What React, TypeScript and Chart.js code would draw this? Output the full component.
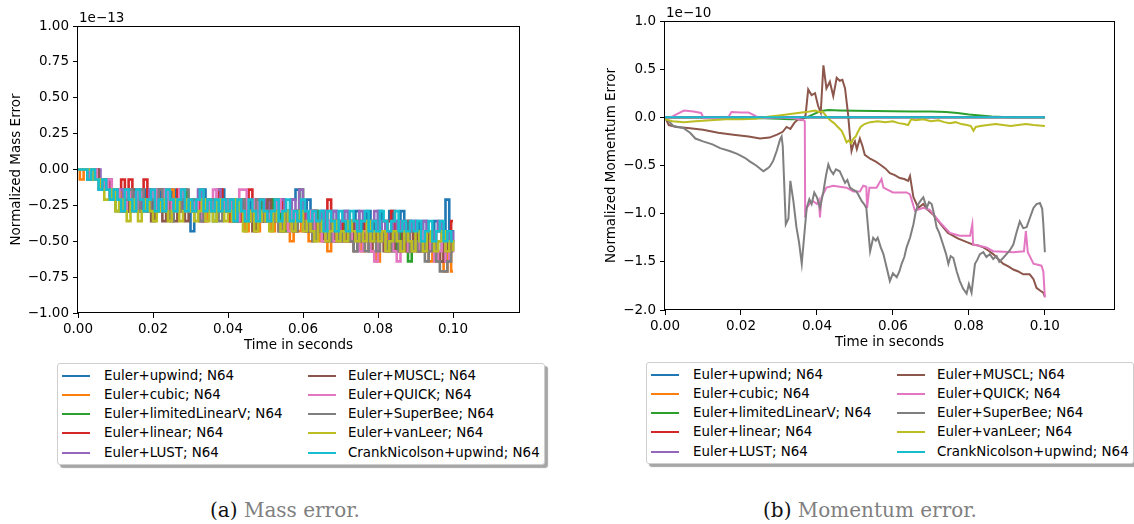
import React, { useEffect, useRef } from "react";
import { Chart, registerables } from "chart.js";

Chart.register(...registerables);

// ---------- labels, colours, ticks ----------
const SERIES_LABELS = [
  "Euler+upwind; N64",
  "Euler+cubic; N64",
  "Euler+limitedLinearV; N64",
  "Euler+linear; N64",
  "Euler+LUST; N64",
  "Euler+MUSCL; N64",
  "Euler+QUICK; N64",
  "Euler+SuperBee; N64",
  "Euler+vanLeer; N64",
  "CrankNicolson+upwind; N64",
];
const SERIES_COLORS = [
  "#1f77b4", "#ff7f0e", "#2ca02c", "#d62728", "#9467bd",
  "#8c564b", "#e377c2", "#7f7f7f", "#bcbd22", "#17becf",
];
const X_TICKS = [0, 0.02, 0.04, 0.06, 0.08, 0.1];
const MASS_Y_TICKS = [-1, -0.75, -0.5, -0.25, 0, 0.25, 0.5, 0.75, 1];
const MOM_Y_TICKS = [-2, -1.5, -1, -0.5, 0, 0.5, 1];

// ---------- (a) mass error, units of 1e-13 ----------
const MASS_T = [
  0, 0.001, 0.002, 0.003, 0.004, 0.005, 0.006, 0.007, 0.008, 0.009,
  0.01, 0.011, 0.012, 0.013, 0.014, 0.015, 0.016, 0.017, 0.018, 0.019,
  0.02, 0.021, 0.022, 0.023, 0.024, 0.025, 0.026, 0.027, 0.028, 0.029,
  0.03, 0.031, 0.032, 0.033, 0.034, 0.035, 0.036, 0.037, 0.038, 0.039,
  0.04, 0.041, 0.042, 0.043, 0.044, 0.045, 0.046, 0.047, 0.048, 0.049,
  0.05, 0.051, 0.052, 0.053, 0.054, 0.055, 0.056, 0.057, 0.058, 0.059,
  0.06, 0.061, 0.062, 0.063, 0.064, 0.065, 0.066, 0.067, 0.068, 0.069,
  0.07, 0.071, 0.072, 0.073, 0.074, 0.075, 0.076, 0.077, 0.078, 0.079,
  0.08, 0.081, 0.082, 0.083, 0.084, 0.085, 0.086, 0.087, 0.088, 0.089,
  0.09, 0.091, 0.092, 0.093, 0.094, 0.095, 0.096, 0.097, 0.098, 0.099, 0.1,
];
const MASS_UPWIND = [
  0, 0, 0, 0, -0.07, -0.07, -0.14, -0.07, -0.14, -0.21,
  -0.14, -0.21, -0.29, -0.21, -0.14, -0.29, -0.21, -0.14, -0.29, -0.21,
  -0.29, -0.14, -0.21, -0.29, -0.21, -0.14, -0.29, -0.21, -0.29, -0.21,
  -0.43, -0.21, -0.29, -0.14, -0.21, -0.29, -0.21, -0.29, -0.14, -0.29,
  -0.21, -0.29, -0.36, -0.21, -0.29, -0.21, -0.36, -0.29, -0.21, -0.36,
  -0.29, -0.21, -0.36, -0.29, -0.21, -0.36, -0.29, -0.21, -0.14, -0.36,
  -0.29, -0.21, -0.36, -0.29, -0.36, -0.29, -0.43, -0.36, -0.29, -0.43,
  -0.36, -0.29, -0.43, -0.36, -0.29, -0.43, -0.36, -0.29, -0.43, -0.36,
  -0.29, -0.43, -0.36, -0.29, -0.43, -0.36, -0.29, -0.43, -0.36, -0.43,
  -0.36, -0.43, -0.36, -0.5, -0.43, -0.36, -0.43, -0.5, -0.21, -0.43, -0.5,
];
const MASS_CUBIC = [
  0, -0.07, 0, -0.07, 0, -0.07, -0.07, -0.14, -0.07, -0.14,
  -0.21, -0.14, -0.21, -0.29, -0.21, -0.14, -0.21, -0.29, -0.21, -0.14,
  -0.21, -0.29, -0.21, -0.29, -0.21, -0.14, -0.29, -0.21, -0.29, -0.21,
  -0.29, -0.21, -0.29, -0.21, -0.36, -0.21, -0.29, -0.21, -0.29, -0.21,
  -0.29, -0.36, -0.21, -0.29, -0.36, -0.43, -0.29, -0.36, -0.43, -0.29,
  -0.36, -0.29, -0.43, -0.36, -0.29, -0.43, -0.36, -0.5, -0.36, -0.43,
  -0.36, -0.43, -0.5, -0.36, -0.43, -0.5, -0.43, -0.57, -0.43, -0.5,
  -0.43, -0.5, -0.43, -0.5, -0.43, -0.5, -0.57, -0.43, -0.5, -0.57,
  -0.64, -0.5, -0.43, -0.57, -0.5, -0.43, -0.57, -0.5, -0.57, -0.43,
  -0.5, -0.57, -0.5, -0.57, -0.64, -0.5, -0.57, -0.64, -0.71, -0.57, -0.71,
];
const MASS_LIMITEDLINEARV = [
  0, 0, 0, -0.07, 0, -0.07, -0.14, -0.07, -0.14, -0.21,
  -0.29, -0.21, -0.14, -0.29, -0.21, -0.14, -0.21, -0.29, -0.21, -0.14,
  -0.21, -0.29, -0.21, -0.14, -0.29, -0.21, -0.29, -0.21, -0.14, -0.29,
  -0.21, -0.29, -0.21, -0.29, -0.21, -0.29, -0.36, -0.21, -0.29, -0.21,
  -0.29, -0.21, -0.36, -0.29, -0.21, -0.36, -0.29, -0.36, -0.21, -0.29,
  -0.36, -0.29, -0.21, -0.36, -0.29, -0.43, -0.29, -0.36, -0.29, -0.14,
  -0.36, -0.43, -0.36, -0.29, -0.43, -0.36, -0.5, -0.43, -0.5, -0.43,
  -0.36, -0.43, -0.5, -0.43, -0.36, -0.5, -0.43, -0.36, -0.43, -0.5,
  -0.43, -0.5, -0.43, -0.5, -0.57, -0.43, -0.5, -0.43, -0.64, -0.5,
  -0.43, -0.5, -0.57, -0.5, -0.43, -0.57, -0.5, -0.57, -0.64, -0.5, -0.57,
];
const MASS_LINEAR = [
  0, 0, 0, 0, -0.07, 0, -0.07, -0.14, -0.07, -0.14,
  -0.21, -0.14, -0.07, -0.21, -0.07, -0.14, -0.21, -0.29, -0.07, -0.21,
  -0.29, -0.21, -0.14, -0.29, -0.21, -0.29, -0.21, -0.14, -0.29, -0.21,
  -0.29, -0.21, -0.29, -0.14, -0.29, -0.21, -0.29, -0.21, -0.14, -0.29,
  -0.21, -0.36, -0.29, -0.21, -0.36, -0.29, -0.14, -0.29, -0.36, -0.21,
  -0.36, -0.29, -0.36, -0.29, -0.21, -0.36, -0.29, -0.36, -0.29, -0.36,
  -0.29, -0.36, -0.43, -0.29, -0.36, -0.43, -0.36, -0.21, -0.43, -0.36,
  -0.43, -0.36, -0.43, -0.5, -0.36, -0.43, -0.36, -0.43, -0.5, -0.36,
  -0.43, -0.5, -0.43, -0.36, -0.29, -0.43, -0.5, -0.43, -0.36, -0.5,
  -0.43, -0.5, -0.43, -0.57, -0.5, -0.43, -0.57, -0.64, -0.5, -0.43, -0.36,
];
const MASS_LUST = [
  0, 0, 0, 0, 0, 0, -0.07, -0.14, -0.07, -0.14,
  -0.21, -0.14, -0.21, -0.29, -0.14, -0.21, -0.14, -0.29, -0.21, -0.14,
  -0.21, -0.29, -0.21, -0.14, -0.21, -0.29, -0.21, -0.14, -0.29, -0.21,
  -0.29, -0.21, -0.14, -0.29, -0.21, -0.29, -0.21, -0.14, -0.29, -0.21,
  -0.29, -0.21, -0.36, -0.29, -0.21, -0.29, -0.36, -0.21, -0.29, -0.36,
  -0.21, -0.29, -0.36, -0.29, -0.21, -0.36, -0.29, -0.21, -0.36, -0.14,
  -0.29, -0.36, -0.29, -0.43, -0.36, -0.29, -0.43, -0.36, -0.29, -0.43,
  -0.36, -0.29, -0.43, -0.36, -0.43, -0.29, -0.36, -0.43, -0.36, -0.29,
  -0.43, -0.36, -0.43, -0.5, -0.36, -0.43, -0.36, -0.5, -0.43, -0.36,
  -0.43, -0.5, -0.36, -0.43, -0.5, -0.43, -0.36, -0.5, -0.43, -0.5, -0.43,
];
const MASS_MUSCL = [
  0, 0, 0, -0.07, -0.07, 0, -0.07, -0.14, -0.14, -0.21,
  -0.14, -0.21, -0.29, -0.21, -0.29, -0.14, -0.21, -0.29, -0.21, -0.29,
  -0.36, -0.21, -0.29, -0.36, -0.21, -0.29, -0.36, -0.29, -0.21, -0.36,
  -0.29, -0.21, -0.29, -0.36, -0.21, -0.29, -0.21, -0.29, -0.21, -0.29,
  -0.21, -0.29, -0.36, -0.29, -0.21, -0.36, -0.29, -0.43, -0.29, -0.36,
  -0.29, -0.21, -0.36, -0.29, -0.43, -0.36, -0.29, -0.36, -0.43, -0.29,
  -0.36, -0.43, -0.36, -0.29, -0.43, -0.36, -0.5, -0.43, -0.36, -0.5,
  -0.43, -0.5, -0.43, -0.36, -0.57, -0.5, -0.43, -0.5, -0.57, -0.43,
  -0.5, -0.43, -0.57, -0.5, -0.43, -0.57, -0.5, -0.43, -0.57, -0.5,
  -0.43, -0.57, -0.5, -0.57, -0.43, -0.5, -0.57, -0.64, -0.5, -0.57, -0.5,
];
const MASS_QUICK = [
  0, 0, 0, -0.07, 0, -0.07, -0.07, -0.14, -0.07, -0.21,
  -0.14, -0.21, -0.29, -0.14, -0.21, -0.29, -0.14, -0.21, -0.29, -0.21,
  -0.14, -0.29, -0.21, -0.14, -0.29, -0.21, -0.29, -0.14, -0.21, -0.29,
  -0.21, -0.29, -0.21, -0.36, -0.21, -0.29, -0.14, -0.29, -0.21, -0.29,
  -0.21, -0.29, -0.36, -0.14, -0.14, -0.36, -0.29, -0.21, -0.36, -0.29,
  -0.36, -0.29, -0.36, -0.21, -0.29, -0.36, -0.43, -0.29, -0.36, -0.29,
  -0.43, -0.36, -0.29, -0.43, -0.36, -0.5, -0.43, -0.36, -0.5, -0.43,
  -0.5, -0.43, -0.36, -0.5, -0.43, -0.57, -0.43, -0.5, -0.57, -0.64,
  -0.5, -0.43, -0.57, -0.5, -0.57, -0.64, -0.5, -0.43, -0.57, -0.5,
  -0.57, -0.5, -0.43, -0.57, -0.5, -0.64, -0.57, -0.5, -0.64, -0.57, -0.5,
];
const MASS_SUPERBEE = [
  0, 0, 0, -0.07, 0, -0.07, -0.14, -0.07, -0.14, -0.21,
  -0.14, -0.21, -0.29, -0.21, -0.14, -0.21, -0.29, -0.14, -0.21, -0.29,
  -0.21, -0.29, -0.14, -0.21, -0.29, -0.36, -0.21, -0.29, -0.21, -0.14,
  -0.29, -0.21, -0.29, -0.36, -0.21, -0.29, -0.21, -0.29, -0.36, -0.21,
  -0.29, -0.21, -0.36, -0.29, -0.21, -0.36, -0.29, -0.36, -0.21, -0.29,
  -0.36, -0.29, -0.36, -0.29, -0.43, -0.36, -0.29, -0.36, -0.43, -0.29,
  -0.36, -0.43, -0.36, -0.5, -0.43, -0.36, -0.43, -0.5, -0.36, -0.43,
  -0.5, -0.43, -0.36, -0.5, -0.57, -0.43, -0.5, -0.57, -0.43, -0.5,
  -0.57, -0.43, -0.5, -0.57, -0.5, -0.43, -0.57, -0.5, -0.43, -0.57,
  -0.5, -0.57, -0.5, -0.64, -0.57, -0.5, -0.64, -0.71, -0.71, -0.64, -0.57,
];
const MASS_VANLEER = [
  0, 0, 0, 0, -0.07, -0.07, -0.14, -0.21, -0.21, -0.14,
  -0.29, -0.21, -0.29, -0.36, -0.21, -0.29, -0.36, -0.29, -0.21, -0.29,
  -0.36, -0.29, -0.21, -0.29, -0.36, -0.29, -0.21, -0.36, -0.29, -0.21,
  -0.29, -0.36, -0.29, -0.21, -0.36, -0.29, -0.36, -0.21, -0.29, -0.36,
  -0.29, -0.36, -0.21, -0.29, -0.43, -0.36, -0.29, -0.43, -0.36, -0.29,
  -0.36, -0.43, -0.29, -0.36, -0.43, -0.29, -0.36, -0.43, -0.36, -0.29,
  -0.43, -0.36, -0.43, -0.5, -0.36, -0.43, -0.5, -0.43, -0.36, -0.5,
  -0.43, -0.5, -0.36, -0.43, -0.5, -0.43, -0.5, -0.36, -0.5, -0.43,
  -0.5, -0.43, -0.57, -0.5, -0.43, -0.5, -0.57, -0.43, -0.5, -0.57,
  -0.43, -0.5, -0.57, -0.43, -0.5, -0.57, -0.5, -0.43, -0.57, -0.5, -0.57,
];
const MASS_CRANKNICOLSON = [
  0, 0, 0, -0.07, 0, -0.07, -0.14, -0.07, -0.14, -0.21,
  -0.14, -0.21, -0.29, -0.14, -0.21, -0.29, -0.14, -0.21, -0.29, -0.21,
  -0.14, -0.29, -0.21, -0.29, -0.14, -0.21, -0.29, -0.21, -0.14, -0.29,
  -0.21, -0.29, -0.21, -0.14, -0.29, -0.21, -0.29, -0.21, -0.29, -0.21,
  -0.29, -0.21, -0.36, -0.21, -0.29, -0.36, -0.21, -0.29, -0.36, -0.21,
  -0.29, -0.36, -0.29, -0.21, -0.36, -0.29, -0.21, -0.36, -0.29, -0.36,
  -0.21, -0.29, -0.36, -0.29, -0.36, -0.29, -0.43, -0.29, -0.36, -0.43,
  -0.29, -0.36, -0.43, -0.29, -0.36, -0.43, -0.36, -0.29, -0.43, -0.36,
  -0.43, -0.29, -0.36, -0.43, -0.36, -0.29, -0.43, -0.36, -0.43, -0.36,
  -0.43, -0.36, -0.5, -0.43, -0.36, -0.5, -0.43, -0.36, -0.5, -0.43, -0.5,
];
const MASS_SERIES = [
  MASS_UPWIND, MASS_CUBIC, MASS_LIMITEDLINEARV, MASS_LINEAR, MASS_LUST,
  MASS_MUSCL, MASS_QUICK, MASS_SUPERBEE, MASS_VANLEER, MASS_CRANKNICOLSON,
];

// ---------- (b) momentum error, units of 1e-10 ----------
const MOM_UPWIND_T = [0, 0.025, 0.05, 0.075, 0.1];
const MOM_UPWIND_V = [0, 0, 0, 0, 0];
const MOM_CUBIC_T = [0, 0.025, 0.05, 0.075, 0.1];
const MOM_CUBIC_V = [0, 0, 0, 0, 0];
const MOM_LLV_T = [
  0, 0.01, 0.02, 0.026, 0.03, 0.033, 0.035, 0.037, 0.039, 0.041, 0.043, 0.046,
  0.05, 0.055, 0.06, 0.065, 0.07, 0.074, 0.077, 0.08, 0.083, 0.086, 0.089, 0.092, 0.1,
];
const MOM_LLV_V = [
  0, 0, -0.005, -0.01, -0.015, -0.02, -0.02, -0.005, 0.03, 0.065, 0.075, 0.072,
  0.068, 0.065, 0.062, 0.06, 0.06, 0.055, 0.045, 0.03, 0.018, 0.008, 0.003, 0, 0,
];
const MOM_LINEAR_T = [0, 0.025, 0.05, 0.075, 0.1];
const MOM_LINEAR_V = [0, 0, 0, 0, 0];
const MOM_LUST_T = [0, 0.025, 0.05, 0.075, 0.1];
const MOM_LUST_V = [0, 0, 0, 0, 0];
const MOM_MUSCL_T = [
  0, 0.001, 0.003, 0.006, 0.01, 0.014, 0.018, 0.022, 0.025, 0.0275,
  0.0295, 0.031, 0.032, 0.033, 0.034, 0.035, 0.036, 0.037, 0.0377, 0.0386,
  0.0395, 0.0403, 0.041, 0.0417, 0.0425, 0.0434, 0.0443, 0.0452, 0.046, 0.0467,
  0.0474, 0.0482, 0.0487, 0.0491, 0.0496, 0.05, 0.0505, 0.0513, 0.052, 0.0526,
  0.054, 0.0555, 0.0566, 0.058, 0.0592, 0.0605, 0.0618, 0.063, 0.064, 0.0645,
  0.0654, 0.0667, 0.068, 0.0689, 0.0706, 0.072, 0.0732, 0.0745, 0.0759, 0.0772,
  0.0785, 0.0798, 0.081, 0.0825, 0.0838, 0.085, 0.0864, 0.0877, 0.089, 0.0905,
  0.0917, 0.093, 0.0943, 0.096, 0.097, 0.0978, 0.0988, 0.0996, 0.1,
];
const MOM_MUSCL_V = [
  0, -0.08, -0.1, -0.11, -0.13, -0.16, -0.18, -0.2, -0.22, -0.21,
  -0.18, -0.15, -0.1, -0.12, -0.06, -0.02, -0.03, 0.02, 0.29, 0.23,
  0.25, 0.12, 0.05, 0.54, 0.3, 0.37, 0.22, 0.41, 0.38, 0.39,
  0.3, 0.03, -0.2, -0.35, -0.28, -0.25, -0.33, -0.22, -0.3, -0.39,
  -0.43, -0.46, -0.49, -0.53, -0.58, -0.6, -0.63, -0.64, -0.66, -0.61,
  -0.83, -0.94, -0.9, -0.95, -1.01, -1.08, -1.14, -1.2, -1.23, -1.26,
  -1.28, -1.3, -1.32, -1.33, -1.35, -1.38, -1.42, -1.47, -1.52, -1.55,
  -1.58, -1.6, -1.63, -1.63, -1.68, -1.77, -1.8, -1.82, -1.86,
];
const MOM_QUICK_T = [
  0, 0.002, 0.003, 0.005, 0.0075, 0.0095, 0.0102, 0.013, 0.0165, 0.0175,
  0.02, 0.022, 0.023, 0.025, 0.03, 0.034, 0.0365, 0.0368, 0.0369, 0.0373,
  0.0382, 0.039, 0.04, 0.0405, 0.0408, 0.0412, 0.0425, 0.0443, 0.046, 0.0478,
  0.0496, 0.0513, 0.0522, 0.053, 0.0532, 0.0538, 0.0557, 0.057, 0.0575, 0.06,
  0.0636, 0.0645, 0.0658, 0.068, 0.0697, 0.0724, 0.075, 0.0776, 0.0803, 0.0809,
  0.0811, 0.0846, 0.0864, 0.0917, 0.0945, 0.095, 0.0955, 0.097, 0.0991, 0.0996, 0.1,
];
const MOM_QUICK_V = [
  -0.02, 0.01, 0.03, 0.07, 0.06, 0.045, -0.01, -0.01, -0.01, 0.055,
  0.05, 0.05, 0.03, -0.01, 0, -0.01, -0.03, -0.04, -1.04, -0.94,
  -0.89, -0.87, -0.9, -0.86, -1.04, -0.83, -0.73, -0.71, -0.72, -0.73,
  -0.77, -0.77, -0.71, -0.72, -0.94, -0.73, -0.73, -0.64, -0.73, -0.78,
  -0.78, -0.8, -0.97, -0.94, -0.96, -1.09, -1.2, -1.23, -1.23, -1.11,
  -1.32, -1.35, -1.39, -1.4, -1.39, -1.18, -1.4, -1.52, -1.54, -1.6, -1.87,
];
const MOM_SUPERBEE_T = [
  0, 0.001, 0.0022, 0.0035, 0.0048, 0.0066, 0.008, 0.01, 0.0125, 0.0145,
  0.017, 0.019, 0.021, 0.0224, 0.024, 0.0259, 0.027, 0.0276, 0.0285, 0.0294,
  0.0303, 0.0307, 0.031, 0.0318, 0.0325, 0.033, 0.0338, 0.0346, 0.0353, 0.036,
  0.0366, 0.0373, 0.038, 0.0386, 0.0393, 0.04, 0.0408, 0.0417, 0.0424, 0.043,
  0.0436, 0.0443, 0.045, 0.046, 0.0467, 0.0474, 0.048, 0.0487, 0.0495, 0.0504,
  0.0511, 0.0518, 0.0524, 0.053, 0.054, 0.0548, 0.0555, 0.056, 0.0568, 0.0575,
  0.0583, 0.0592, 0.06, 0.061, 0.0617, 0.0623, 0.063, 0.0636, 0.0645, 0.0654,
  0.066, 0.0667, 0.0674, 0.068, 0.0689, 0.0695, 0.0702, 0.0708, 0.0715, 0.0722,
  0.0732, 0.074, 0.0746, 0.0752, 0.0759, 0.0768, 0.0776, 0.0785, 0.0794, 0.08,
  0.0807, 0.0816, 0.0822, 0.0829, 0.0838, 0.0846, 0.0855, 0.0864, 0.0873, 0.088,
  0.089, 0.0899, 0.0908, 0.0917, 0.0925, 0.0934, 0.0943, 0.0952, 0.096, 0.097,
  0.0978, 0.0987, 0.0993, 0.0996, 0.1,
];
const MOM_SUPERBEE_V = [
  0, -0.04, -0.09, -0.1, -0.11, -0.16, -0.22, -0.25, -0.28, -0.32,
  -0.35, -0.38, -0.42, -0.46, -0.5, -0.56, -0.53, -0.51, -0.45, -0.35,
  -0.23, -0.2, -0.3, -1.11, -1.05, -0.66, -0.87, -1.14, -1.3, -1.52,
  -1.25, -0.94, -0.85, -0.9, -0.78, -0.83, -0.94, -0.77, -0.6, -0.49,
  -0.55, -0.59, -0.54, -0.56, -0.62, -0.68, -0.65, -0.73, -0.75, -0.77,
  -0.82, -0.87, -0.9, -0.94, -1.39, -1.25, -1.28, -1.25, -1.35, -1.42,
  -1.55, -1.7, -1.62, -1.66, -1.6, -1.52, -1.45, -1.35, -1.25, -1.11,
  -0.98, -0.9, -0.86, -0.83, -0.94, -0.88, -0.9, -1.0, -1.14, -1.2,
  -1.32, -1.42, -1.52, -1.44, -1.46, -1.6, -1.7, -1.78, -1.83, -1.73,
  -1.82, -1.52, -1.48, -1.42, -1.4, -1.45, -1.42, -1.47, -1.44, -1.5,
  -1.46, -1.42, -1.38, -1.32, -1.2, -1.08, -1.15, -1.14, -1.05, -0.94,
  -0.9, -0.89, -0.95, -1.11, -1.4,
];
const MOM_VANLEER_T = [
  0, 0.002, 0.005, 0.008, 0.012, 0.016, 0.02, 0.024, 0.027, 0.03,
  0.033, 0.036, 0.038, 0.0395, 0.0405, 0.0415, 0.0425, 0.0435, 0.0445, 0.0455,
  0.0465, 0.0472, 0.0478, 0.0484, 0.049, 0.0496, 0.0502, 0.0508, 0.0515, 0.0525,
  0.054, 0.056, 0.058, 0.06, 0.0615, 0.063, 0.064, 0.0648, 0.066, 0.068,
  0.07, 0.072, 0.0735, 0.075, 0.0765, 0.078, 0.0795, 0.0805, 0.0812, 0.0818,
  0.083, 0.085, 0.087, 0.089, 0.091, 0.093, 0.095, 0.097, 0.1,
];
const MOM_VANLEER_V = [
  -0.02, -0.04, -0.05, -0.04, -0.03, -0.02, -0.02, -0.015, 0.005, 0.02,
  0.035, 0.05, 0.06, 0.07, 0.055, 0.06, 0.01, -0.03, -0.06, -0.1,
  -0.14, -0.2, -0.26, -0.24, -0.27, -0.22, -0.2, -0.15, -0.1, -0.07,
  -0.05, -0.04, -0.05, -0.04, -0.06, -0.07, -0.08, -0.02, -0.03, -0.02,
  -0.04, -0.03, -0.05, -0.06, -0.05, -0.07, -0.08, -0.09, -0.14, -0.1,
  -0.09, -0.08, -0.07, -0.08, -0.09, -0.08, -0.07, -0.08, -0.09,
];
const MOM_CRANKNICOLSON_T = [0, 0.025, 0.05, 0.075, 0.1];
const MOM_CRANKNICOLSON_V = [0, 0, 0, 0, 0];

const MOM_SERIES_T = [
  MOM_UPWIND_T, MOM_CUBIC_T, MOM_LLV_T, MOM_LINEAR_T, MOM_LUST_T,
  MOM_MUSCL_T, MOM_QUICK_T, MOM_SUPERBEE_T, MOM_VANLEER_T, MOM_CRANKNICOLSON_T,
];
const MOM_SERIES_V = [
  MOM_UPWIND_V, MOM_CUBIC_V, MOM_LLV_V, MOM_LINEAR_V, MOM_LUST_V,
  MOM_MUSCL_V, MOM_QUICK_V, MOM_SUPERBEE_V, MOM_VANLEER_V, MOM_CRANKNICOLSON_V,
];

// ---------- helpers ----------
const FONT_FAMILY = '"DejaVu Sans", sans-serif';
const FONT_SIZE = 13.5;
const fmt = (v: number, d: number) =>
  (v < -1e-9 ? "\u2212" : "") + Math.abs(v).toFixed(d);

function framePlugin(offsetText: string) {
  return {
    id: "frameAndOffset",
    afterDraw(chart: any) {
      const { ctx, chartArea: a } = chart;
      ctx.save();
      ctx.strokeStyle = "#000";
      ctx.lineWidth = 1;
      ctx.strokeRect(
        Math.round(a.left) - 0.5,
        Math.round(a.top) + 0.5,
        Math.round(a.right - a.left) + 1,
        Math.round(a.bottom - a.top) - 1
      );
      ctx.fillStyle = "#000";
      ctx.font = `${FONT_SIZE}px ${FONT_FAMILY}`;
      ctx.textAlign = "left";
      ctx.textBaseline = "alphabetic";
      ctx.fillText(offsetText, a.left + 1, a.top - 4);
      ctx.restore();
    },
  };
}

type Cfg = {
  datasets: any[];
  xMax: number;
  yMin: number;
  yMax: number;
  yTicks: number[];
  yDecimals: number;
  yTitle: string;
  yAxisWidth: number;
  yTitlePad: number;
  xAxisHeight: number;
  xTitlePad: number;
  padTop: number;
  padRight: number;
  offsetText: string;
};

function buildChart(canvas: HTMLCanvasElement, c: Cfg) {
  const font = { family: FONT_FAMILY, size: FONT_SIZE };
  const grid = {
    display: true,
    drawOnChartArea: false,
    drawTicks: true,
    tickLength: 5,
    tickColor: "#000",
    tickWidth: 1,
  };
  return new Chart(canvas, {
    type: "line",
    data: { datasets: c.datasets },
    options: {
      animation: false,
      responsive: false,
      devicePixelRatio: 1,
      layout: { padding: { top: c.padTop, right: c.padRight, left: 0, bottom: 0 } },
      plugins: { legend: { display: false }, tooltip: { enabled: false } },
      elements: { point: { radius: 0 }, line: { tension: 0, borderWidth: 2 } },
      scales: {
        x: {
          type: "linear",
          min: 0,
          max: c.xMax,
          afterBuildTicks: (ax: any) => {
            ax.ticks = X_TICKS.map((v) => ({ value: v }));
          },
          afterFit: (s: any) => {
            s.height = c.xAxisHeight;
          },
          ticks: {
            font,
            color: "#000",
            padding: 3,
            maxRotation: 0,
            autoSkip: false,
            callback: (v: any) => fmt(Number(v), 2),
          },
          grid,
          border: { display: false },
          title: {
            display: true,
            text: "Time in seconds",
            font,
            color: "#000",
            padding: { top: 0, bottom: c.xTitlePad },
          },
        },
        y: {
          type: "linear",
          min: c.yMin,
          max: c.yMax,
          afterBuildTicks: (ax: any) => {
            ax.ticks = c.yTicks.map((v) => ({ value: v }));
          },
          afterFit: (s: any) => {
            s.width = c.yAxisWidth;
          },
          ticks: {
            font,
            color: "#000",
            padding: 4,
            autoSkip: false,
            callback: (v: any) => fmt(Number(v), c.yDecimals),
          },
          grid,
          border: { display: false },
          title: {
            display: true,
            text: c.yTitle,
            font,
            color: "#000",
            padding: { top: c.yTitlePad, bottom: 0 },
          },
        },
      },
    },
    plugins: [framePlugin(c.offsetText)],
  } as any);
}

function makeDataset(
  i: number,
  data: { x: number; y: number }[],
  stepped: false | "middle" | "before",
  width: number
) {
  return {
    label: SERIES_LABELS[i],
    data,
    borderColor: SERIES_COLORS[i],
    backgroundColor: SERIES_COLORS[i],
    borderWidth: width,
    pointRadius: 0,
    tension: 0,
    stepped,
    fill: false,
    order: SERIES_LABELS.length - 1 - i,
  };
}

function Legend({ left, top }: { left: number; top: number }) {
  return (
    <div
      style={{
        position: "absolute",
        left,
        top,
        width: 488,
        height: 102,
        boxSizing: "border-box",
        border: "1px solid #cfcfcf",
        borderRadius: 3,
        background: "#fff",
        boxShadow: "3px 3px 1px rgba(0,0,0,0.35)",
        fontFamily: FONT_FAMILY,
        fontSize: 13.4,
        color: "#000",
      }}
    >
      {SERIES_LABELS.map((lab, i) => {
        const col = Math.floor(i / 5);
        const row = i % 5;
        const cy = 11.5 + row * 19.3;
        const hx = col ? 250 : 4;
        const tx = col ? 290 : 46;
        return (
          <React.Fragment key={lab}>
            <div
              style={{
                position: "absolute",
                left: hx,
                top: cy - 1,
                width: 28,
                height: 2,
                background: SERIES_COLORS[i],
              }}
            />
            <div
              style={{
                position: "absolute",
                left: tx,
                top: cy - 10,
                height: 20,
                lineHeight: "20px",
                whiteSpace: "nowrap",
              }}
            >
              {lab}
            </div>
          </React.Fragment>
        );
      })}
    </div>
  );
}

function Caption({ cx, tag, text }: { cx: number; tag: string; text: string }) {
  return (
    <div
      style={{
        position: "absolute",
        left: cx - 200,
        width: 400,
        top: 497,
        height: 26,
        lineHeight: "26px",
        textAlign: "center",
        fontFamily: '"DejaVu Serif", serif',
        fontSize: 20,
        whiteSpace: "nowrap",
      }}
    >
      <span style={{ color: "#111" }}>{tag}</span>
      <span style={{ color: "#808080" }}>{text}</span>
    </div>
  );
}

export default function App() {
  const massRef = useRef<HTMLCanvasElement>(null);
  const momRef = useRef<HTMLCanvasElement>(null);

  useEffect(() => {
    const massSets = MASS_SERIES.map((vals, i) =>
      makeDataset(
        i,
        MASS_T.map((t, k) => ({ x: t, y: vals[k] })),
        i % 2 === 1 ? "middle" : "before",
        2.6
      )
    );
    const momSets = MOM_SERIES_T.map((ts, i) =>
      makeDataset(i, ts.map((t, k) => ({ x: t, y: MOM_SERIES_V[i][k] })), false, 2)
    );
    const c1 = buildChart(massRef.current!, {
      datasets: massSets,
      xMax: 0.1176,
      yMin: -1,
      yMax: 1,
      yTicks: MASS_Y_TICKS,
      yDecimals: 2,
      yTitle: "Normalized Mass Error",
      yAxisWidth: 78,
      yTitlePad: 8,
      xAxisHeight: 47,
      xTitlePad: 6,
      padTop: 26,
      padRight: 41,
      offsetText: "1e\u221213",
    });
    const c2 = buildChart(momRef.current!, {
      datasets: momSets,
      xMax: 0.1182,
      yMin: -2,
      yMax: 1,
      yTicks: MOM_Y_TICKS,
      yDecimals: 1,
      yTitle: "Normalized Momentum Error",
      yAxisWidth: 95,
      yTitlePad: 33,
      xAxisHeight: 50,
      xTitlePad: 9,
      padTop: 21,
      padRight: 20,
      offsetText: "1e\u221210",
    });
    return () => {
      c1.destroy();
      c2.destroy();
    };
  }, []);

  return (
    <div
      style={{
        position: "fixed",
        left: 0,
        top: 0,
        width: 1134,
        height: 524,
        background: "#fff",
        overflow: "hidden",
      }}
    >
      <canvas
        ref={massRef}
        width={560}
        height={360}
        style={{ position: "absolute", left: 0, top: 0, width: 560, height: 360 }}
      />
      <canvas
        ref={momRef}
        width={564}
        height={360}
        style={{ position: "absolute", left: 570, top: 0, width: 564, height: 360 }}
      />
      <Legend left={57} top={363} />
      <Legend left={646} top={362} />
      <Caption cx={285} tag="(a) " text="Mass error." />
      <Caption cx={870} tag="(b) " text="Momentum error." />
    </div>
  );
}
